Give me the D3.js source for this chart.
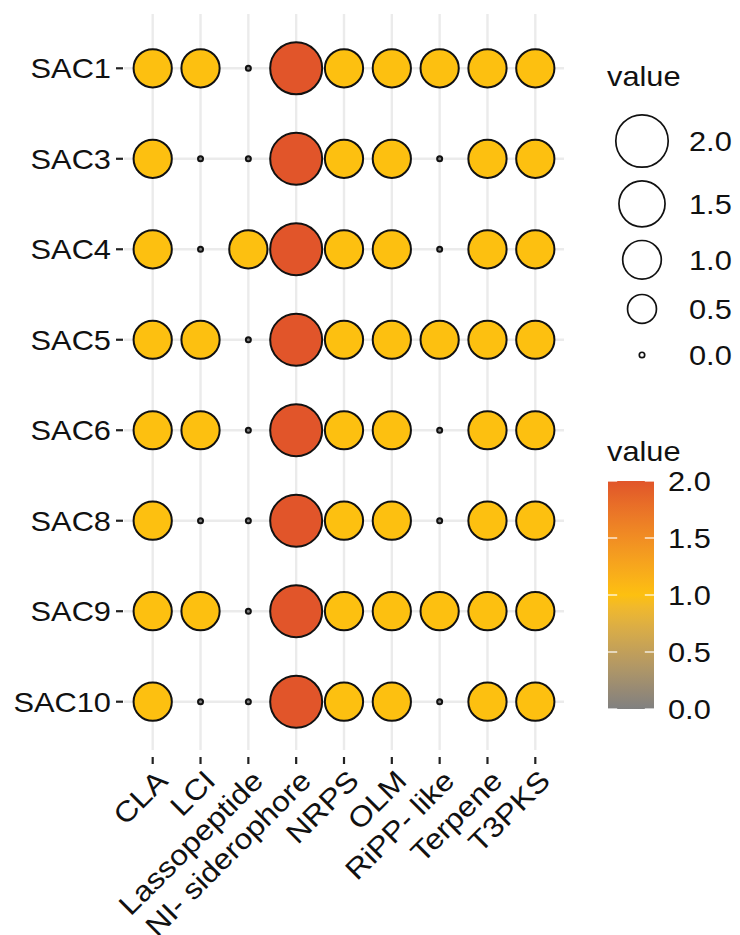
<!DOCTYPE html>
<html>
<head>
<meta charset="utf-8">
<script src="https://cdn.jsdelivr.net/npm/d3@7/dist/d3.min.js"></script>
<style>
  html, body { margin: 0; padding: 0; background: #fff; }
  svg { display: block; font-family: "Liberation Sans", Arial, sans-serif; }
</style>
</head>
<body>
<svg id="chart" width="740" height="935"></svg>
<script>
// Biosynthetic gene cluster classes (x) and samples (y)
const clusters = ["CLA", "LCI", "Lassopeptide", "NI- siderophore", "NRPS", "OLM", "RiPP- like", "Terpene", "T3PKS"];
const samples = ["SAC1", "SAC3", "SAC4", "SAC5", "SAC6", "SAC8", "SAC9", "SAC10"];

// Cluster counts per sample, one row per sample in cluster order
const SAC1  = [1, 1, 0, 2, 1, 1, 1, 1, 1];
const SAC3  = [1, 0, 0, 2, 1, 1, 0, 1, 1];
const SAC4  = [1, 0, 1, 2, 1, 1, 0, 1, 1];
const SAC5  = [1, 1, 0, 2, 1, 1, 1, 1, 1];
const SAC6  = [1, 1, 0, 2, 1, 1, 0, 1, 1];
const SAC8  = [1, 0, 0, 2, 1, 1, 0, 1, 1];
const SAC9  = [1, 1, 0, 2, 1, 1, 1, 1, 1];
const SAC10 = [1, 0, 0, 2, 1, 1, 0, 1, 1];
const rows = [SAC1, SAC3, SAC4, SAC5, SAC6, SAC8, SAC9, SAC10];

// Legend breaks
const sizeBreaks = [2.0, 1.5, 1.0, 0.5, 0.0];
const colorBreaks = [2.0, 1.5, 1.0, 0.5, 0.0];

const svg = d3.select("#chart");
const FONT = 27.5;
const XFONT = 28.5;
const STRETCH = 1.12;

const panel = { left: 124, right: 564, top: 14, bottom: 756 };

const x = d3.scalePoint().domain(clusters).range([panel.left, panel.right]).padding(0.6);
const y = d3.scalePoint().domain(samples).range([panel.top, panel.bottom]).padding(0.6);
const size = d3.scaleSqrt().domain([0, 2]).range([3.5, 27]);
const color = d3.scaleLinear().domain([0, 1, 2])
  .range(["#808080", "#FDC010", "#E1552A"])
  .interpolate(d3.interpolateLab);

const data = [];
samples.forEach((s, i) => clusters.forEach((c, j) => data.push({ sample: s, cluster: c, value: rows[i][j] })));

// Grid
const grid = svg.append("g").attr("stroke", "#ebebeb").attr("stroke-width", 2.4);
grid.selectAll("line.v").data(clusters).join("line")
  .attr("x1", d => x(d)).attr("x2", d => x(d))
  .attr("y1", panel.top).attr("y2", 750);
grid.selectAll("line.h").data(samples).join("line")
  .attr("x1", panel.left).attr("x2", panel.right)
  .attr("y1", d => y(d)).attr("y2", d => y(d));

// Points
const STROKE = 2;
svg.append("g").selectAll("circle").data(data).join("circle")
  .attr("cx", d => x(d.cluster))
  .attr("cy", d => y(d.sample))
  .attr("r", d => size(d.value) - STROKE / 2)
  .attr("fill", d => color(d.value))
  .attr("stroke", "#111")
  .attr("stroke-width", STROKE);

// Y axis
const yAxis = svg.append("g");
yAxis.selectAll("line").data(samples).join("line")
  .attr("x1", 116).attr("x2", 123)
  .attr("y1", d => y(d)).attr("y2", d => y(d))
  .attr("stroke", "#222").attr("stroke-width", 2.2);
yAxis.selectAll("text").data(samples).join("text")
  .attr("transform", d => `translate(111,${y(d)}) scale(${STRETCH},1)`)
  .attr("text-anchor", "end")
  .attr("dy", "0.36em")
  .attr("font-size", FONT)
  .attr("fill", "#111")
  .text(d => d);

// X axis
const xAxis = svg.append("g");
xAxis.selectAll("line").data(clusters).join("line")
  .attr("x1", d => x(d)).attr("x2", d => x(d))
  .attr("y1", 757).attr("y2", 764)
  .attr("stroke", "#222").attr("stroke-width", 2.2);
xAxis.selectAll("text").data(clusters).join("text")
  .attr("transform", d => `translate(${x(d) + 2},${768}) rotate(-45) scale(${STRETCH},1)`)
  .attr("text-anchor", "end")
  .attr("dy", "0.72em")
  .attr("font-size", XFONT)
  .attr("fill", "#111")
  .text(d => d);

// Size legend
const sizeLegend = svg.append("g");
sizeLegend.append("text")
  .attr("transform", `translate(607,86) scale(${STRETCH},1)`)
  .attr("font-size", FONT).attr("fill", "#111").text("value");
const keyH = sizeBreaks.map(v => Math.max(2 * size(v) + 12, 46));
let cy = 141;
const keyY = sizeBreaks.map((v, i) => {
  if (i > 0) cy += (keyH[i - 1] + keyH[i]) / 2;
  return cy;
});
sizeLegend.selectAll("circle").data(sizeBreaks).join("circle")
  .attr("cx", 642)
  .attr("cy", (d, i) => keyY[i])
  .attr("r", d => size(d) - 0.8)
  .attr("fill", "none")
  .attr("stroke", "#111")
  .attr("stroke-width", 1.7);
sizeLegend.selectAll("text.lab").data(sizeBreaks).join("text")
  .attr("class", "lab")
  .attr("transform", (d, i) => `translate(689,${keyY[i]}) scale(${STRETCH},1)`)
  .attr("dy", "0.36em")
  .attr("font-size", FONT).attr("fill", "#111")
  .text(d => d.toFixed(1));

// Colour bar legend
const bar = { x: 608, w: 46, top: 481, bottom: 709 };
const cbar = d3.scaleLinear().domain([0, 2]).range([bar.bottom, bar.top]);
const defs = svg.append("defs");
const grad = defs.append("linearGradient").attr("id", "cbar")
  .attr("x1", 0).attr("x2", 0).attr("y1", 1).attr("y2", 0);
d3.range(0, 2.0001, 0.1).forEach(v => {
  grad.append("stop").attr("offset", `${(v / 2) * 100}%`).attr("stop-color", color(v));
});
const colorLegend = svg.append("g");
colorLegend.append("text")
  .attr("transform", `translate(607,461) scale(${STRETCH},1)`)
  .attr("font-size", FONT).attr("fill", "#111").text("value");
colorLegend.append("rect")
  .attr("x", bar.x).attr("y", bar.top)
  .attr("width", bar.w).attr("height", bar.bottom - bar.top)
  .attr("fill", "url(#cbar)");
const tickLen = bar.w / 5;
colorLegend.selectAll("line.l").data(colorBreaks).join("line")
  .attr("x1", bar.x).attr("x2", bar.x + tickLen)
  .attr("y1", d => cbar(d)).attr("y2", d => cbar(d))
  .attr("stroke", "#fff").attr("stroke-width", 1.2);
colorLegend.selectAll("line.r").data(colorBreaks).join("line")
  .attr("x1", bar.x + bar.w - tickLen).attr("x2", bar.x + bar.w)
  .attr("y1", d => cbar(d)).attr("y2", d => cbar(d))
  .attr("stroke", "#fff").attr("stroke-width", 1.2);
colorLegend.selectAll("text.lab").data(colorBreaks).join("text")
  .attr("class", "lab")
  .attr("transform", d => `translate(668,${cbar(d)}) scale(${STRETCH},1)`)
  .attr("dy", "0.36em")
  .attr("font-size", FONT).attr("fill", "#111")
  .text(d => d.toFixed(1));
</script>
</body>
</html>
